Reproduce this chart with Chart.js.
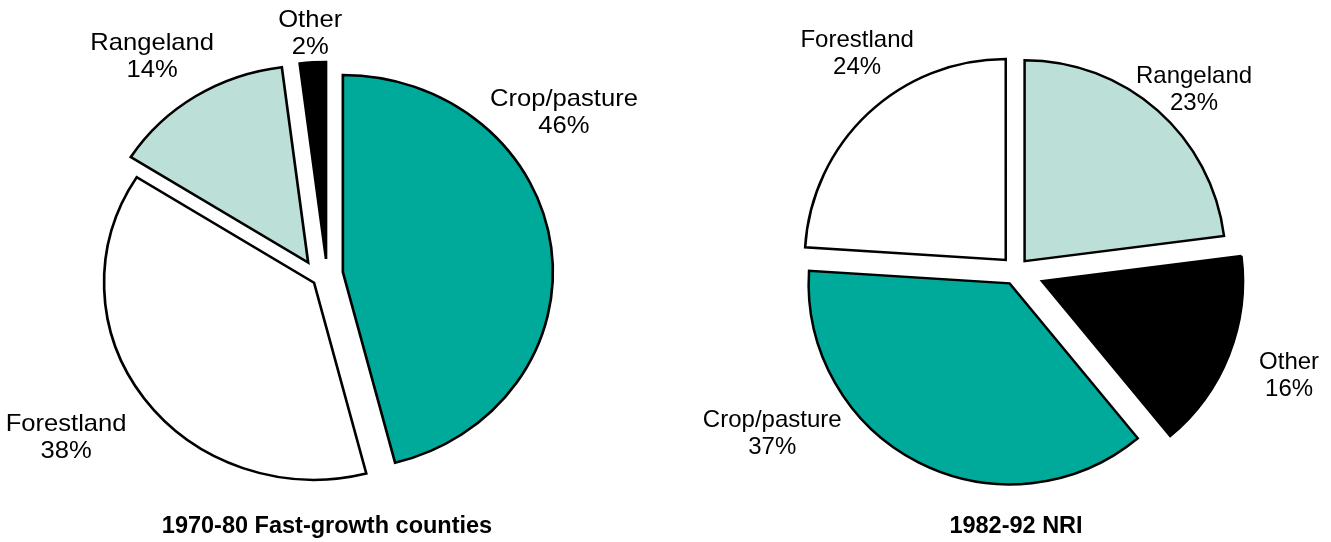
<!DOCTYPE html>
<html>
<head>
<meta charset="utf-8">
<title>Land use pies</title>
<script src="https://cdn.jsdelivr.net/npm/chart.js@4.4.1/dist/chart.umd.min.js"></script>
<style>
  html, body { margin: 0; padding: 0; background: #fff; }
  #wrap { position: relative; width: 1331px; height: 542px; }
  canvas { position: absolute; top: 0; }
  #pieA { left: 0; }
  #pieB { left: 660px; }
</style>
</head>
<body>
<div id="wrap">
  <canvas id="pieA" width="660" height="542"></canvas>
  <canvas id="pieB" width="671" height="542"></canvas>
</div>
<script>
// 1970-80 fast-growth counties
const labelsA = ['Crop/pasture', 'Forestland', 'Rangeland', 'Other'];
const valuesA = [46, 38, 14, 2];
const titleA = '1970-80 Fast-growth counties';

// 1982-92 NRI
const labelsB = ['Rangeland', 'Other', 'Crop/pasture', 'Forestland'];
const valuesB = [23, 16, 37, 24];
const titleB = '1982-92 NRI';

const colours = {
    'Crop/pasture': '#00AA9A',
    'Forestland': '#FFFFFF',
    'Rangeland': '#BCE0D8',
    'Other': '#000000'
};
const FONT = "'Liberation Sans', Arial, sans-serif";

// exploded slices + outside labels
const pieExtras = {
    id: 'pieExtras',
    beforeDatasetDraw(chart, args, opts) {
        const ctx = chart.ctx;
        const arcs = args.meta.data;
        if (!arcs.length) return;
        const cx = arcs[0].x, cy = arcs[0].y;
        const turn = opts.explodeTurn || [];
        ctx.save();
        ctx.translate(cx, cy);
        ctx.scale(opts.stretchX || 1, 1);
        ctx.translate(-cx, -cy);
        arcs.forEach(function(arc, i) {
            // push slice outwards (mid angle, optionally turned a bit)
            const dir = (arc.startAngle + arc.endAngle) / 2 + (turn[i] || 0) * Math.PI / 180;
            const d = opts.explode[i] || 0;
            ctx.save();
            ctx.translate(Math.cos(dir) * d, Math.sin(dir) * d);
            arc.draw(ctx);
            ctx.restore();
        });
        ctx.restore();
        return false;
    },
    afterDatasetsDraw(chart, args, opts) {
        const ctx = chart.ctx;
        const meta = chart.getDatasetMeta(0);
        const values = chart.data.datasets[0].data;
        const sx = opts.stretchX || 1;
        ctx.save();
        ctx.fillStyle = '#000';
        ctx.font = '24px ' + FONT;
        ctx.textAlign = 'center';
        ctx.textBaseline = 'middle';
        meta.data.forEach(function(arc, i) {
            const a = opts.spots[i][0] * Math.PI / 180;
            const dist = opts.spots[i][1];
            const x = arc.x + Math.sin(a) * dist;
            const y = arc.y - Math.cos(a) * dist;
            ctx.save();
            ctx.translate(x, y);
            ctx.scale(sx, 1);
            ctx.fillText(chart.data.labels[i], 0, -13.5);
            ctx.fillText(values[i] + '%', 0, 13.5);
            ctx.restore();
        });
        ctx.restore();
    }
};

function makePie(id, labels, values, title, pad, radius, extras) {
    const ctx = document.getElementById(id).getContext('2d');
    return new Chart(ctx, {
        type: 'pie',
        data: {
            labels: labels,
            datasets: [{
                data: values,
                backgroundColor: labels.map(l => colours[l]),
                borderColor: '#000',
                borderWidth: 2.5,
                borderJoinStyle: 'miter',
                radius: radius
            }]
        },
        options: {
            responsive: false,
            animation: false,
            devicePixelRatio: 1,
            events: [],
            layout: { padding: pad },
            plugins: {
                legend: { display: false },
                tooltip: { enabled: false },
                title: {
                    display: true,
                    text: title,
                    position: 'bottom',
                    color: '#000',
                    padding: 0,
                    font: { family: FONT, size: 23.5, weight: 'bold' }
                },
                pieExtras: extras
            }
        },
        plugins: [pieExtras]
    });
}

makePie('pieA', labelsA, valuesA, titleA,
    { left: 0, right: 6, top: 35, bottom: 1 }, 197, {
        stretchX: 1.066,
        explode: [15, 15, 21, 15],
        explodeTurn: [0, 0, -25, 0],
        spots: [[55.8, 286.5], [237.9, 308], [321.2, 279], [356, 241]]
    });

makePie('pieB', labelsB, valuesB, titleB,
    { left: 41, right: 0, top: 29, bottom: 1 }, 201, {
        stretchX: 1,
        explode: [13, 28, 14, 15],
        spots: [[44.5, 254], [111.1, 292.7], [236.3, 293], [323.8, 269]]
    });
</script>
</body>
</html>
